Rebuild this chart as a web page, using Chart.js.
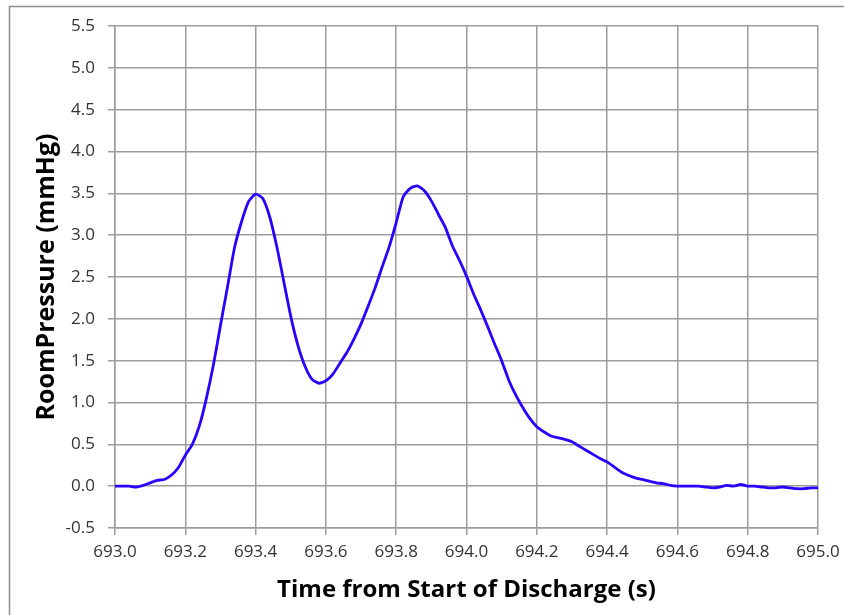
<!DOCTYPE html>
<html>
<head>
<meta charset="utf-8">
<script src="https://cdn.jsdelivr.net/npm/chart.js@4/dist/chart.umd.min.js"></script>
<style>
  html, body { margin: 0; padding: 0; background: #fff; }
  #wrap { width: 844px; height: 615px; position: relative; }
</style>
</head>
<body>
<div id="wrap"><canvas id="chart" width="844" height="615"></canvas></div>
<script>
// valores
const tiempo = [
  693.00, 693.02, 693.04, 693.06, 693.08, 693.10, 693.12, 693.14, 693.16, 693.18,
  693.20, 693.22, 693.24, 693.26, 693.28, 693.30, 693.32, 693.34, 693.36, 693.38,
  693.40, 693.42, 693.44, 693.46, 693.48, 693.50, 693.52, 693.54, 693.56, 693.58,
  693.60, 693.62, 693.64, 693.66, 693.68, 693.70, 693.72, 693.74, 693.76, 693.78,
  693.80, 693.82, 693.84, 693.86, 693.88, 693.90, 693.92, 693.94, 693.96, 693.98,
  694.00, 694.02, 694.04, 694.06, 694.08, 694.10, 694.12, 694.14, 694.16, 694.18,
  694.20, 694.22, 694.24, 694.26, 694.28, 694.30, 694.32, 694.34, 694.36, 694.38,
  694.40, 694.42, 694.44, 694.46, 694.48, 694.50, 694.52, 694.54, 694.56, 694.58,
  694.60, 694.62, 694.64, 694.66, 694.68, 694.70, 694.72, 694.74, 694.76, 694.78,
  694.80, 694.82, 694.84, 694.86, 694.88, 694.90, 694.92, 694.94, 694.96, 694.98,
  695.00
];
const presion = [
  0.00, 0.00, 0.00, -0.01, 0.01, 0.04, 0.07, 0.08, 0.13, 0.22,
  0.37, 0.50, 0.72, 1.05, 1.45, 1.92, 2.38, 2.85, 3.16, 3.40,
  3.49, 3.44, 3.22, 2.87, 2.45, 2.03, 1.69, 1.44, 1.28, 1.23,
  1.26, 1.34, 1.47, 1.60, 1.76, 1.94, 2.15, 2.37, 2.62, 2.86,
  3.15, 3.46, 3.56, 3.59, 3.53, 3.41, 3.25, 3.09, 2.87, 2.70,
  2.51, 2.30, 2.11, 1.91, 1.70, 1.50, 1.27, 1.09, 0.94, 0.81,
  0.71, 0.65, 0.60, 0.58, 0.56, 0.53, 0.48, 0.43, 0.38, 0.33,
  0.29, 0.23, 0.17, 0.13, 0.10, 0.08, 0.06, 0.04, 0.03, 0.01,
  0.00, 0.00, 0.00, 0.00, -0.01, -0.02, -0.01, 0.01, 0.00, 0.02,
  0.00, 0.00, -0.01, -0.02, -0.02, -0.01, -0.02, -0.03, -0.03, -0.02,
  -0.02
];
const ejeX = { min: 693.0, max: 695.0, paso: 0.2 };
const ejeY = { min: -0.5, max: 5.5, paso: 0.5 };
const tituloX = 'Time from Start of Discharge (s)';
const tituloY = 'RoomPressure (mmHg)';

const puntos = tiempo.map((t, i) => ({ x: t, y: presion[i] }));

const GRIS = '#9c9c9c';

// marco del área de gráfico (solo borde superior e izquierdo visibles)
const marco = {
  id: 'marco',
  beforeDraw(chart) {
    const ctx = chart.ctx;
    ctx.save();
    ctx.strokeStyle = '#8c8c8c';
    ctx.lineWidth = 1.5;
    ctx.beginPath();
    ctx.moveTo(9.5, 615);
    ctx.lineTo(9.5, 6.5);
    ctx.lineTo(844, 6.5);
    ctx.stroke();
    ctx.restore();
  }
};

new Chart(document.getElementById('chart'), {
  type: 'line',
  data: {
    datasets: [{
      data: puntos,
      borderColor: '#2a00ff',
      borderWidth: 2.8,
      pointRadius: 0,
      tension: 0.2,
      fill: false
    }]
  },
  options: {
    responsive: false,
    animation: false,
    layout: { padding: { left: 28, top: 26, right: 0, bottom: 6 } },
    plugins: { legend: { display: false }, tooltip: { enabled: false } },
    scales: {
      x: {
        type: 'linear',
        min: ejeX.min,
        max: ejeX.max,
        afterBuildTicks: (ax) => {
          const ticks = [];
          for (let v = ejeX.min; v <= ejeX.max + 1e-9; v += ejeX.paso) ticks.push({ value: +v.toFixed(1) });
          ax.ticks = ticks;
        },
        afterFit: (ax) => { ax.height = 81; ax.paddingRight = 26; },
        grid: { color: GRIS, lineWidth: 1.5, tickLength: 7, drawTicks: true },
        border: { color: GRIS, width: 1.5 },
        ticks: {
          color: '#333',
          font: { family: 'Open Sans', size: 17 },
          padding: 7,
          maxRotation: 0,
          callback: (v) => v.toFixed(1)
        },
        title: {
          display: true,
          text: tituloX,
          color: '#000',
          font: { family: 'Open Sans', size: 24, weight: 'bold' },
          padding: { top: 8 }
        }
      },
      y: {
        min: ejeY.min,
        max: ejeY.max,
        afterBuildTicks: (ax) => {
          const ticks = [];
          for (let v = ejeY.min; v <= ejeY.max + 1e-9; v += ejeY.paso) ticks.push({ value: +v.toFixed(1) });
          ax.ticks = ticks;
        },
        afterFit: (ax) => { ax.width = 87; },
        grid: { color: GRIS, lineWidth: 1.5, tickLength: 7, drawTicks: true },
        border: { color: GRIS, width: 1.5 },
        ticks: {
          color: '#333',
          font: { family: 'Open Sans', size: 17 },
          padding: 13,
          callback: (v) => v.toFixed(1)
        },
        title: {
          display: true,
          text: tituloY,
          color: '#000',
          font: { family: 'Open Sans', size: 25, weight: 'bold' },
          padding: { bottom: 0 }
        }
      }
    }
  },
  plugins: [marco]
});
</script>
</body>
</html>
